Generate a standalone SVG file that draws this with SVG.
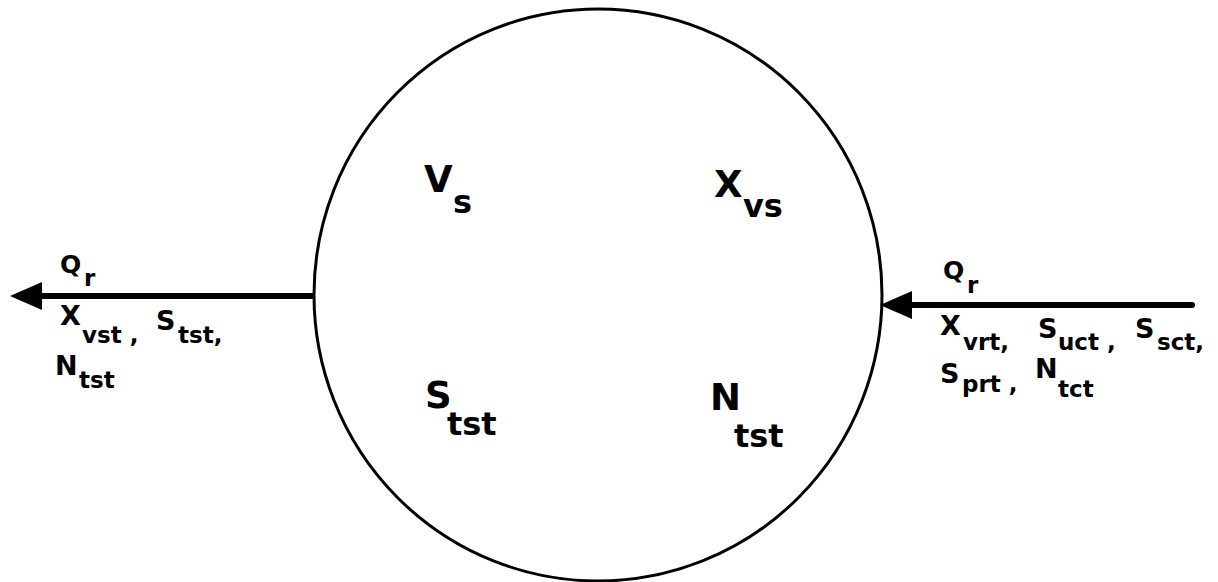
<svg xmlns="http://www.w3.org/2000/svg" width="1218" height="582" viewBox="0 0 1218 582">
<style>
text{font-family:"DejaVu Sans","Liberation Sans",sans-serif;font-weight:bold;fill:#000}
.big{font-size:37px}
.bigs{font-size:32px}
.m{font-size:27px}
.ms{font-size:23px}
.q{font-size:25px}
.flow{stroke:#000;stroke-width:6;fill:none}
</style>
<defs>
<marker id="ah" viewBox="0 0 32 28" refX="0" refY="14" markerWidth="32" markerHeight="28" markerUnits="userSpaceOnUse" orient="auto">
<path d="M0,0 L32,14 L0,28 Z" fill="#000"/>
</marker>
</defs>
<rect width="1218" height="582" fill="#fff"/>
<g id="tank">
<ellipse cx="598" cy="295" rx="284" ry="286" fill="none" stroke="#000" stroke-width="3"/>
<text class="big" x="424" y="192">V<tspan class="bigs" x="453" y="213">s</tspan></text>
<text class="big" x="714" y="197">X<tspan class="bigs" x="743" y="217">vs</tspan></text>
<text class="big" x="425" y="408">S<tspan class="bigs" x="447" y="435">tst</tspan></text>
<text class="big" x="710" y="410">N<tspan class="bigs" x="734" y="447">tst</tspan></text>
</g>
<g id="connectors">
<path class="flow" d="M313,296 L42,296" marker-end="url(#ah)"/>
<path class="flow" d="M1192,305 L912,305" stroke-linecap="round" marker-end="url(#ah)"/>
</g>
<g id="outflow-label">
<text class="q" x="60" y="273">Q<tspan class="ms" x="84" y="286">r</tspan></text>
<text class="m" x="60" y="325">X<tspan class="ms" x="82" y="343">vst ,</tspan></text>
<text class="m" x="156" y="330">S<tspan class="ms" x="178" y="343">tst,</tspan></text>
<text class="m" x="55" y="375">N<tspan class="ms" x="79" y="388">tst</tspan></text>
</g>
<g id="inflow-label">
<text class="q" x="943" y="279">Q<tspan class="ms" x="967" y="293">r</tspan></text>
<text class="m" x="940" y="335">X<tspan class="ms" x="963" y="350">vrt,</tspan></text>
<text class="m" x="1038" y="338">S<tspan class="ms" x="1058" y="350">uct ,</tspan></text>
<text class="m" x="1135" y="338">S<tspan class="ms" x="1157" y="350">sct,</tspan></text>
<text class="m" x="940" y="383">S<tspan class="ms" x="962" y="392">prt ,</tspan></text>
<text class="m" x="1035" y="378">N<tspan class="ms" x="1058" y="397">tct</tspan></text>
</g>
</svg>
